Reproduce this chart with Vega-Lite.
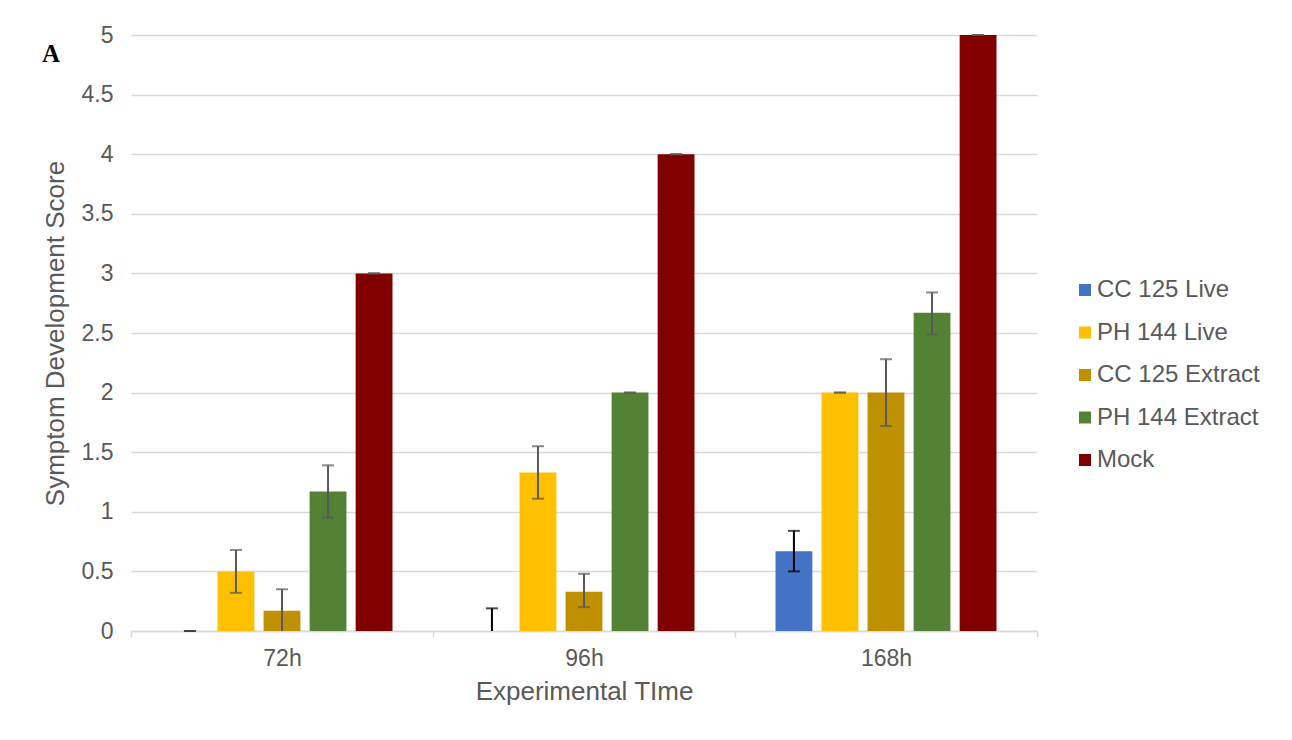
{
  "$schema": "https://vega.github.io/schema/vega-lite/v6.json",
  "width": 906,
  "height": 596,
  "autosize": "none",
  "padding": {"left": 131, "top": 35, "right": 255, "bottom": 109},
  "background": "white",
  "title": {
    "text": "A",
    "anchor": "start",
    "frame": "group",
    "orient": "top",
    "font": "Liberation Serif",
    "fontWeight": "bold",
    "fontSize": 25,
    "color": "black",
    "baseline": "alphabetic",
    "offset": 0,
    "dx": -89,
    "dy": 63
  },
  "config": {
    "view": {"stroke": null},
    "font": "Liberation Sans",
    "axis": {
      "labelFont": "Liberation Sans",
      "titleFont": "Liberation Sans",
      "labelColor": "#595959",
      "titleColor": "#595959",
      "labelFontSize": 23,
      "titleFontSize": 26,
      "titleFontWeight": "normal"
    },
    "legend": {
      "labelFont": "Liberation Sans",
      "labelColor": "#595959",
      "labelFontSize": 24,
      "labelLimit": 400
    }
  },
  "data": {
    "values": [
      {"time": "72h", "series": "CC 125 Live", "value": 0, "hi": 0, "lo": 0},
      {"time": "72h", "series": "PH 144 Live", "value": 0.5, "hi": 0.68, "lo": 0.32},
      {"time": "72h", "series": "CC 125 Extract", "value": 0.17, "hi": 0.35, "lo": 0},
      {"time": "72h", "series": "PH 144 Extract", "value": 1.17, "hi": 1.39, "lo": 0.95},
      {"time": "72h", "series": "Mock", "value": 3, "hi": 3, "lo": 3},
      {"time": "96h", "series": "CC 125 Live", "value": 0, "hi": 0.19, "lo": 0},
      {"time": "96h", "series": "PH 144 Live", "value": 1.33, "hi": 1.55, "lo": 1.11},
      {"time": "96h", "series": "CC 125 Extract", "value": 0.33, "hi": 0.48, "lo": 0.2},
      {"time": "96h", "series": "PH 144 Extract", "value": 2, "hi": 2, "lo": 2},
      {"time": "96h", "series": "Mock", "value": 4, "hi": 4, "lo": 4},
      {"time": "168h", "series": "CC 125 Live", "value": 0.67, "hi": 0.84, "lo": 0.5},
      {"time": "168h", "series": "PH 144 Live", "value": 2, "hi": 2, "lo": 2},
      {"time": "168h", "series": "CC 125 Extract", "value": 2, "hi": 2.28, "lo": 1.72},
      {"time": "168h", "series": "PH 144 Extract", "value": 2.67, "hi": 2.84, "lo": 2.49},
      {"time": "168h", "series": "Mock", "value": 5, "hi": 5, "lo": 5}
    ]
  },
  "encoding": {
    "x": {
      "field": "time",
      "type": "nominal",
      "sort": ["72h", "96h", "168h"],
      "scale": {"paddingInner": 0, "paddingOuter": 0},
      "axis": {
        "title": "Experimental TIme",
        "labelAngle": 0,
        "tickBand": "extent",
        "domainColor": "#d9d9d9",
        "domainWidth": 1.5,
        "tickColor": "#d9d9d9",
        "tickWidth": 1.5,
        "tickSize": 6,
        "labelPadding": 10,
        "titlePadding": 8,
        "grid": false
      }
    },
    "xOffset": {
      "field": "series",
      "type": "nominal",
      "sort": ["CC 125 Live", "PH 144 Live", "CC 125 Extract", "PH 144 Extract", "Mock"],
      "scale": {"paddingInner": 0.2, "paddingOuter": 0.88}
    }
  },
  "layer": [
    {
      "mark": {"type": "bar"},
      "encoding": {
        "y": {
          "field": "value",
          "type": "quantitative",
          "scale": {"domain": [0, 5], "nice": false},
          "axis": {
            "title": "Symptom Development Score",
            "values": [0, 0.5, 1, 1.5, 2, 2.5, 3, 3.5, 4, 4.5, 5],
            "format": "~g",
            "domain": false,
            "ticks": false,
            "grid": true,
            "gridColor": "#d9d9d9",
            "gridWidth": 1.5,
            "labelPadding": 18,
            "titlePadding": 13
          }
        },
        "color": {
          "field": "series",
          "type": "nominal",
          "sort": ["CC 125 Live", "PH 144 Live", "CC 125 Extract", "PH 144 Extract", "Mock"],
          "scale": {
            "domain": ["CC 125 Live", "PH 144 Live", "CC 125 Extract", "PH 144 Extract", "Mock"],
            "range": ["#4472C4", "#FFC000", "#BF9000", "#548235", "#800000"]
          },
          "legend": {
            "title": null,
            "orient": "none",
            "legendX": 942,
            "legendY": 243,
            "symbolType": "square",
            "symbolSize": 144,
            "symbolStrokeWidth": 0,
            "labelOffset": 0,
            "rowPadding": 18.5
          }
        }
      }
    },
    {
      "mark": {"type": "rule", "strokeWidth": 2},
      "encoding": {
        "y": {"field": "lo", "type": "quantitative"},
        "y2": {"field": "hi"},
        "color": {
          "condition": {"test": "datum.series === 'CC 125 Live'", "value": "#000000"},
          "value": "#595959"
        }
      }
    },
    {
      "mark": {"type": "tick", "size": 12, "thickness": 2},
      "encoding": {
        "y": {"field": "hi", "type": "quantitative"},
        "color": {
          "condition": {"test": "datum.series === 'CC 125 Live'", "value": "#000000"},
          "value": "#595959"
        }
      }
    },
    {
      "transform": [{"filter": "datum.lo > 0"}],
      "mark": {"type": "tick", "size": 12, "thickness": 2},
      "encoding": {
        "y": {"field": "lo", "type": "quantitative"},
        "color": {
          "condition": {"test": "datum.series === 'CC 125 Live'", "value": "#000000"},
          "value": "#595959"
        }
      }
    }
  ]
}
